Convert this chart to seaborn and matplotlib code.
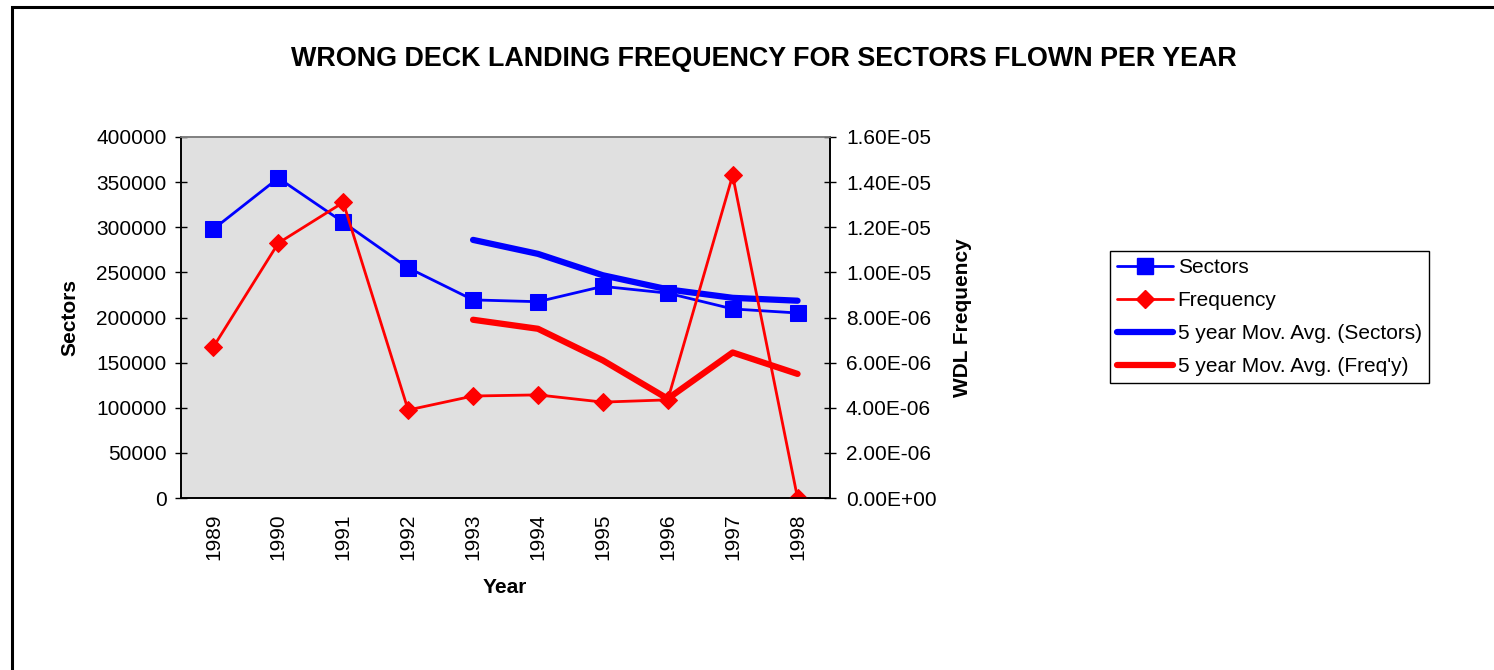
import matplotlib
matplotlib.use("Agg")
import matplotlib.pyplot as plt
import matplotlib.ticker as mticker
from matplotlib.lines import Line2D
from matplotlib.patches import Rectangle
import seaborn as sns

years = ["1989", "1990", "1991", "1992", "1993", "1994", "1995", "1996", "1997", "1998"]
sectors = [298000, 354500, 305500, 255000, 219500, 217500, 234500, 227000, 209500, 205000]
frequency = [6.7e-6, 1.13e-5, 1.31e-5, 3.9e-6, 4.52e-6, 4.57e-6, 4.25e-6, 4.35e-6, 1.43e-5, 0.0]
ma_years = ["1993", "1994", "1995", "1996", "1997", "1998"]
ma_sectors = [286000, 270500, 246800, 231200, 221800, 218600]
ma_frequency = [7.9e-6, 7.5e-6, 6.1e-6, 4.4e-6, 6.45e-6, 5.5e-6]

sns.set_style("white")
plt.rcParams["font.family"] = ["Liberation Sans", "DejaVu Sans"]
plt.rcParams.update({"text.color": "black", "axes.labelcolor": "black",
                     "xtick.color": "black", "ytick.color": "black"})

fig = plt.figure(figsize=(14.94, 6.7), dpi=100)
ax = fig.add_axes([181 / 1494, 1 - 498 / 670, (830 - 181) / 1494, (498 - 137) / 670])
ax.set_facecolor("#e0e0e0")
ax2 = ax.twinx()

x_all = list(range(len(years)))
x_ma = [years.index(y) for y in ma_years]

blue = "#0000ff"
red = "#ff0000"

sns.lineplot(x=x_all, y=sectors, ax=ax, color=blue, lw=2, marker="s", markersize=11,
             markeredgecolor=blue, legend=False)
sns.lineplot(x=x_ma, y=ma_sectors, ax=ax, color=blue, lw=4.5, legend=False)
sns.lineplot(x=x_all, y=frequency, ax=ax2, color=red, lw=2, marker="D", markersize=9,
             markeredgecolor=red, legend=False)
sns.lineplot(x=x_ma, y=ma_frequency, ax=ax2, color=red, lw=4.5, legend=False)

ax.set_xlim(-0.5, len(years) - 0.5)
ax.set_ylim(0, 400000)
ax2.set_ylim(0, 1.6e-5)
ax.set_yticks(range(0, 400001, 50000))
ax2.set_yticks([i * 2e-6 for i in range(9)])
ax2.yaxis.set_major_formatter(mticker.FuncFormatter(lambda v, p: f"{v:.2E}"))
ax.yaxis.set_major_formatter(mticker.FuncFormatter(lambda v, p: f"{int(v)}"))

ax.set_xticks([i - 0.5 for i in range(len(years) + 1)])
ax.set_xticklabels([])
ax.set_xticks(x_all, minor=True)
ax.set_xticklabels(years, minor=True, rotation=90, fontsize=15)
ax.tick_params(axis="x", which="major", direction="inout", length=9, width=1, color="black")
ax.tick_params(axis="x", which="minor", length=0, pad=11)
ax.tick_params(axis="y", direction="inout", length=9, width=1, color="black", labelsize=15, pad=6, left=True)
ax2.tick_params(axis="y", direction="inout", length=9, width=1, color="black", labelsize=15, pad=7, right=True)

for a in (ax, ax2):
    a.spines["top"].set_color("#808080")
    a.spines["bottom"].set_color("black")
    a.spines["left"].set_color("black")
    a.spines["right"].set_color("black")
    for s in a.spines.values():
        s.set_linewidth(1.2)
    a.grid(False)

ax.set_xlabel("Year", fontsize=15, fontweight="bold")
ax.set_ylabel("Sectors", fontsize=15, fontweight="bold")
ax2.set_ylabel("WDL Frequency", fontsize=15, fontweight="bold")
ax.xaxis.set_label_coords(0.499, -0.222)
ax.yaxis.set_label_coords(-0.156, 0.5)
ax2.yaxis.set_label_coords(1.19, 0.5)

fig.text(0.511, 1 - 59 / 670, "WRONG DECK LANDING FREQUENCY FOR SECTORS FLOWN PER YEAR",
         ha="center", va="center", fontsize=19.4, fontweight="bold")

handles = [
    Line2D([], [], color=blue, lw=2, marker="s", markersize=11),
    Line2D([], [], color=red, lw=2, marker="D", markersize=9),
    Line2D([], [], color=blue, lw=4.5),
    Line2D([], [], color=red, lw=4.5),
]
labels = ["Sectors", "Frequency", "5 year Mov. Avg. (Sectors)", "5 year Mov. Avg. (Freq'y)"]
leg = fig.legend(handles, labels, loc="upper left",
                 bbox_to_anchor=(1110 / 1494, 1 - 251 / 670),
                 fontsize=15, frameon=True, fancybox=False, framealpha=1,
                 edgecolor="black", handlelength=2.65, handletextpad=0.25,
                 labelspacing=0.67, borderpad=0.35, borderaxespad=0)
leg.get_frame().set_linewidth(1)

fig.patches.append(Rectangle((11.5 / 1494, -0.1), 1.2, 1 - 7.5 / 670 + 0.1,
                             transform=fig.transFigure, fill=False,
                             edgecolor="black", lw=2.2, zorder=10))

fig.savefig("out.png", dpi=100)
